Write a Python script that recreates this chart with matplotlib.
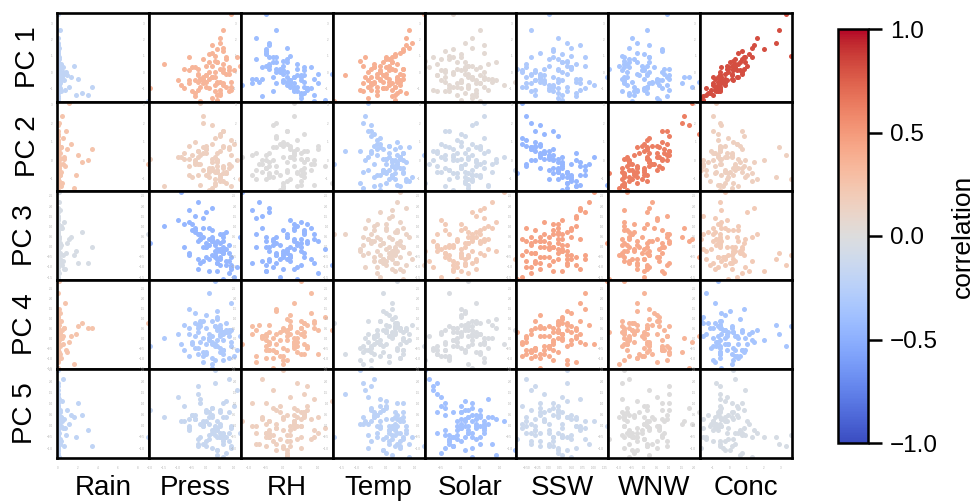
import numpy as np
import matplotlib.pyplot as plt
import matplotlib as mpl

plt.rcParams['font.family'] = ['Liberation Sans', 'DejaVu Sans']

# variables (columns) and principal components (rows)
variables = ['Rain', 'Press', 'RH', 'Temp', 'Solar', 'SSW', 'WNW', 'Conc']
pcs = ['PC 1', 'PC 2', 'PC 3', 'PC 4', 'PC 5']

# correlation of each PC with each variable
corr = [
    [-0.20, 0.35, -0.40, 0.38, 0.05, -0.30, -0.35, 0.82],
    [0.25, 0.15, 0.00, -0.28, -0.10, -0.45, 0.62, 0.15],
    [-0.05, -0.45, -0.45, 0.12, 0.20, 0.45, 0.42, 0.20],
    [0.25, -0.30, 0.30, -0.05, -0.03, 0.40, 0.35, -0.35],
    [-0.20, -0.15, 0.15, -0.22, -0.38, -0.12, 0.00, -0.05],
]

# observations (standardised)
rain = [0, 0, 0.3, 0, 0.1, 0.8, 0, 0, 0.2, 0,
        0, 0.1, 1.6, 0, 0, 0.4, 0, 0, 0.1, 0.6,
        0, 0, 0.2, 0, 2.4, 0, 0.1, 1.1, 0, 0,
        0.3, 3.0, 0, 0, 0.1, 0, 0, 0.7, 0, 0.2,
        0, 0, 0.5, 0, 0, 0.2, 0, 0.1, 0, 0,
        0.4, 0, 3.4, 0, 0, 9.0, 0, 0.1, 0, 0.3,
        0, 0.2, 0, 0, 1.3, 0, 0.1, 0, 0.5, 0,
        0, 0.9, 0, 0.2, 0, 0, 2.0, 0, 0.1, 0,
        0.3, 0, 0, 0.6, 0, 0.1, 0, 1.8, 0, 0]
press = [0.3, -0.5, 0.8, 0.1, -0.2, 0.6, -0.4, 0.4, 0.0, 0.5,
         0.9, -0.3, 0.2, -0.3, 0.7, -0.1, 0.4, 1.0, 0.6, -0.6,
         0.1, 0.5, -0.6, 0.9, -0.4, 0.3, 0.8, -0.2, 0.6, 0.0,
         -1.5, 0.4, 0.2, 0.7, -0.9, 0.5, -0.3, 0.9, 0.1, 0.6,
         -0.4, 0.2, 0.8, -0.1, 0.3, -2.0, 0.6, -0.1, 0.4, -0.5,
         0.7, 0.2, 0.0, 0.0, 0.5, -0.2, 1.1, 0.3, -0.6, 0.1,
         0.4, -0.3, -0.8, 0.6, 0.2, 0.5, -0.1, -1.0, 0.3, 0.7,
         0.4, 0.0, 0.9, -0.4, 0.5, 0.1, -0.2, 0.6, 0.8, 0.2,
         -0.1, 0.3, 1.2, -0.3, 0.6, -0.6, 0.2, 0.5, -0.8, 0.4]
rh = [0.2, 0.6, -0.3, -0.5, 0.9, 0.1, -0.6, -0.2, 0.5, -0.8,
      0.4, -0.7, 0.0, 0.7, -0.4, 0.3, 1.2, -0.1, 0.1, 0.5,
      0.8, -0.2, -0.9, -0.5, 0.6, 0.0, 1.0, 0.3, -0.5, 0.2,
      0.4, 0.9, -0.3, 0.1, -1.2, -0.4, 0.6, 0.3, -0.1, -0.2,
      0.0, 0.5, -0.6, -0.8, 0.2, 0.7, 0.4, -0.2, 0.1, 0.3,
      1.4, -0.5, 0.2, -0.4, 0.6, 0.9, -0.3, 0.5, 0.0, -0.6,
      0.3, -0.1, 0.7, -0.4, 0.1, 0.5, -0.8, 0.2, -0.2, 0.6,
      -0.5, 0.4, 0.0, 0.8, 0.3, -0.3, -0.9, 0.1, 0.6, -0.4,
      0.2, 0.4, -0.5, 0.0, 1.0, -0.2, 0.3, 0.5, -0.4, 0.1]
temp = [0.1, -0.4, 0.5, 0.3, -0.2, -0.6, 0.2, -0.1, 0.6, 0.7,
        -0.3, 0.4, -0.8, -0.5, 0.0, -0.7, 0.3, -0.2, 0.8, 0.5,
        -0.1, -0.5, 0.2, 1.3, 0.4, -0.9, -0.3, -0.6, 0.6, 0.1,
        -0.4, 0.3, -0.5, 0.0, 0.5, 0.9, -1.4, 0.2, -0.2, 0.8,
        0.4, -0.6, -0.4, 0.1, 0.3, -0.1, 0.6, -0.8, 0.2, -0.3,
        0.0, 0.5, 0.3, -0.2, -0.4, -1.8, -0.7, 0.4, 0.1, 0.6,
        -0.5, 0.2, 0.0, 0.4, -0.3, 0.7, 0.1, -0.6, -0.2, 0.3,
        0.6, -0.1, 0.5, 0.0, -0.9, 0.2, 0.4, -0.5, 0.3, 0.7,
        -0.2, -0.8, 0.1, 0.5, -0.4, 0.2, 0.0, -0.3, 0.6, -0.1]
solar = [0.2, 0.5, -0.3, 0.0, 0.7, -0.4, 0.4, 0.1, -0.6, 0.3,
         -0.1, 0.8, 0.2, -0.7, -0.2, 0.6, 0.0, -0.5, 0.3, 0.9,
         -0.3, 0.1, 0.5, -0.2, 0.4, -0.9, 0.2, 0.6, -0.4, 0.0,
         0.7, -0.1, 0.3, -0.5, 1.1, 0.1, -0.6, 0.4, -0.2, 0.5,
         0.0, 0.3, -0.8, 0.6, -0.3, 0.2, -0.1, 0.4, 0.9, -0.4,
         0.1, 0.6, -0.2, 0.3, 0.0, 0.5, -0.7, 0.2, -0.4, 0.8,
         -0.1, 0.4, 0.0, -0.6, 0.3, 0.1, -0.3, -0.5, 0.6, 0.2,
         -0.2, 0.5, -0.4, 0.1, 0.7, -0.1, 0.3, -0.3, 0.0, 0.6,
         0.4, -0.6, 0.2, -0.2, 0.5, 0.0, -0.4, 0.3, 0.1, 1.4]
ssw = [0.0, 0.5, -0.4, 0.3, 0.7, -0.3, 0.6, 0.4, -0.2, 0.2,
       -0.5, 0.9, 0.4, -0.3, 0.1, -0.5, 0.3, -0.6, 0.5, -0.1,
       0.8, 0.2, 0.7, 0.0, 0.2, 0.4, -0.4, -0.6, 0.1, -0.2,
       0.6, -0.3, -0.2, 0.2, 1.0, 0.4, -0.1, 0.7, 0.3, -0.4,
       -0.3, 0.2, -0.5, 0.6, 0.5, 0.0, -0.7, -0.4, 0.3, 0.1,
       0.4, -0.2, 0.1, 0.8, -0.1, 0.3, -0.4, 1.3, -0.3, 0.2,
       -0.1, 0.5, 0.2, -0.5, -0.2, 0.6, 0.0, 0.3, -0.6, 0.4,
       0.1, -0.4, 0.6, 0.5, 0.0, 0.3, -0.2, 0.1, 0.2, 0.7,
       -0.3, 0.4, 0.0, -0.2, -0.5, 0.8, 0.1, 0.3, -0.1, 0.2]
wnw = [0.6, -0.8, -0.3, 0.0, -0.9, 0.7, 0.9, -0.3, -0.2, -0.5,
       0.1, 0.3, -1.0, 1.0, -0.8, 1.6, 0.6, 0.0, -0.6, -0.8,
       0.0, 1.0, -0.8, 0.9, -0.6, -0.8, 0.8, 1.9, 0.7, 0.5,
       -0.8, -0.6, 1.8, -0.4, -0.7, -0.3, 1.0, -0.3, -0.7, 0.1,
       0.7, 0.5, -0.6, 0.5, -0.9, 0.7, -1.4, 1.5, 0.2, -0.4,
       -0.3, -0.3, 0.1, 0.1, 2.2, -0.5, 0.2, -0.8, -0.1, 0.0,
       0.2, 0.0, 0.1, -0.7, 0.9, 0.1, -0.6, 0.5, 0.2, -0.4,
       0.7, 0.1, -0.8, 0.4, 0.0, -0.6, 1.0, 0.9, -0.9, 0.2,
       0.6, -0.9, -0.1, 0.1, 0.3, 0.2, -0.7, -0.4, 0.8, -0.5]
conc = [-0.7, -0.1, -0.6, 1.1, -0.6, 0.7, -1.6, 0.0, 0.1, 1.6,
        -0.7, -0.6, 0.1, -0.6, 1.3, -1.0, -1.6, 0.4, 1.3, -0.5,
        -1.4, 0.8, -0.5, 3.3, -1.3, 0.2, 0.7, -0.8, 0.7, -0.3,
        0.5, -1.0, -0.5, 0.7, -0.3, 2.7, -0.6, -0.9, -0.6, 2.9,
        0.2, -1.7, 0.3, -0.9, 3.6, -0.6, -0.1, -0.6, 0.6, -0.7,
        -0.3, 0.5, -0.6, 1.0, -0.7, -1.6, 0.9, -0.7, 0.6, -0.3,
        -1.0, 0.2, -0.6, 0.3, 0.4, -1.2, 0.3, -0.2, -0.1, -0.9,
        2.0, -0.6, -0.4, -0.5, -1.1, 0.9, 0.1, -1.0, 0.2, 1.4,
        -0.5, -0.8, -0.2, 0.1, -0.6, 0.8, 0.5, -1.4, -0.2, -0.3]

pc1 = [-0.8, 0.3, -1.2, 1.1, -0.4, 0.0, -1.5, 0.6, -0.2, 2.1,
       -0.9, -0.6, 0.4, -1.1, 0.9, -0.3, -1.7, 0.1, 1.5, -0.5,
       -1.0, 0.2, -0.7, 3.6, -1.3, 0.7, -0.1, -0.9, 1.3, -0.6,
       0.5, -1.4, -0.3, 0.8, -0.8, 1.8, -0.2, -1.1, 0.0, 2.6,
       -0.5, -1.6, 0.3, -0.4, 1.0, -1.0, 0.2, -0.7, 0.6, -1.2,
       -0.1, 1.2, -0.9, 0.4, -0.6, -1.8, 0.9, -0.3, 0.1, -0.4,
       -0.7, 0.2, -1.0, 0.5, -0.3, -1.3, 0.8, -0.5, 0.0, -0.9,
       1.4, -0.2, -0.6, 0.3, -1.1, 0.6, -0.4, -0.8, 0.1, 1.7,
       -0.5, -1.2, 0.4, -0.1, -0.7, 0.9, -0.3, -1.4, 0.2, -0.6]
pc2 = [0.2, -0.9, 0.7, -0.4, -1.3, 1.6, 0.0, -0.6, 0.4, -1.0,
       1.1, -0.2, -1.5, 0.5, -0.7, 2.4, -0.3, 0.9, -1.1, 0.1,
       -0.5, 1.3, -0.8, 0.3, -0.1, -1.2, 0.6, 3.1, -0.4, 0.8,
       -1.4, 0.0, 1.9, -0.6, 0.2, -0.9, 0.5, -0.3, -1.6, 0.7,
       1.0, -0.5, -0.2, 0.4, -1.0, 0.1, -0.7, 2.0, -0.1, 0.3,
       -1.2, -0.4, 0.6, -0.8, 1.4, -0.2, 0.0, -1.3, 0.8, -0.6,
       0.4, -0.8, 0.1, -0.3, 0.9, -1.1, -0.5, 0.2, 1.2, -0.7,
       0.0, 0.6, -1.4, -0.2, 0.5, -0.9, 0.3, 1.6, -0.4, -0.1,
       0.7, -0.6, -1.0, 0.2, 0.8, -0.3, 0.1, -0.8, 0.4, -0.5]
pc3 = [-0.5, 0.8, 0.1, -1.2, 0.4, -0.3, 1.5, -0.8, 0.0, 0.6,
       -1.0, 2.2, -0.4, 0.3, -0.7, 0.9, -0.1, -1.5, 0.5, 1.2,
       -0.6, 0.2, 1.8, -0.9, 0.7, -0.2, -1.3, 0.4, 0.0, -0.5,
       1.0, -0.8, 0.3, -0.1, 2.7, -0.6, 0.6, -1.1, 0.1, -0.3,
       0.8, 0.4, -0.7, 1.4, -0.4, 0.2, -1.6, 0.5, -0.2, 1.1,
       -0.9, 0.3, 0.0, 1.7, -0.5, 0.6, -1.0, 0.2, -0.3, 0.9,
       0.3, -0.6, 1.1, -0.2, 0.5, -0.9, 0.0, 1.3, -0.4, 0.7,
       -1.2, 0.2, -0.5, 0.9, -0.1, 0.4, -0.8, 0.6, -0.3, 1.9,
       -0.7, 0.1, 0.5, -1.1, 0.3, -0.4, 0.8, -0.2, 0.0, -0.6]
pc4 = [0.6, -0.3, -1.0, 0.2, 0.9, -0.6, 0.1, 1.4, -0.8, 0.4,
       -0.2, 0.7, -1.3, -0.5, 0.3, 0.0, 1.1, -0.9, -0.1, 0.5,
       2.3, -0.7, 0.2, -0.4, 0.8, -1.1, 0.4, -0.2, -0.6, 1.2,
       0.0, 0.5, -1.5, 0.3, -0.3, 0.7, -0.8, 1.8, -0.1, 0.2,
       -0.5, 0.9, 0.1, -1.2, 0.6, -0.4, 0.3, -0.7, 1.0, -0.2,
       0.4, -1.0, 0.5, -0.3, 0.1, 0.8, -0.6, 2.9, -0.9, 0.0,
       -0.4, 0.3, 0.7, -0.6, 0.1, 0.5, -0.9, 0.2, -0.3, 0.8,
       -0.1, -0.7, 0.4, 1.3, -0.5, 0.0, 0.6, -1.1, 0.3, -0.2,
       0.9, -0.4, 0.1, 0.5, -0.8, 1.5, -0.3, 0.2, -0.6, 0.4]
pc5 = [-0.2, 0.5, -0.7, 0.1, 1.2, -0.4, 0.3, -1.1, 0.6, -0.3,
       0.0, -0.8, 0.4, 1.8, -0.5, 0.2, -0.1, 0.9, -1.4, 0.3,
       -0.6, 0.7, 0.0, -0.9, 0.5, 2.5, -0.3, 0.1, 1.0, -0.7,
       0.4, -0.2, 0.8, -1.2, 0.2, -0.5, 1.4, -0.1, 0.6, -0.8,
       0.3, -1.0, 2.1, 0.0, -0.4, 0.7, -0.6, 0.1, -1.3, 0.5,
       1.1, -0.3, -0.9, 0.2, 0.6, -0.5, 1.6, 0.0, -0.2, 0.4,
       0.2, -0.6, 0.9, -0.3, 0.5, 0.0, -0.8, 1.3, -0.1, 0.4,
       -0.5, 0.7, -1.0, 0.3, 0.1, -0.4, 1.0, -0.7, 0.6, -0.2,
       0.0, 1.9, -0.3, -0.9, 0.4, -0.1, 0.8, -0.5, 0.2, -1.1]

xs = [rain, press, rh, temp, solar, ssw, wnw, conc]
ys = [pc1, pc2, pc3, pc4, pc5]

fig = plt.figure(figsize=(9.74, 5.01), dpi=100)
gs = fig.add_gridspec(5, 8, left=57/974, right=792/974, top=1-13/501,
                      bottom=1-458/501, wspace=0, hspace=0)

cmap = mpl.colormaps['coolwarm']
norm = mpl.colors.Normalize(-1, 1)

for i in range(5):
    for j in range(8):
        ax = fig.add_subplot(gs[i, j])
        ax.scatter(xs[j], ys[i], s=13, color=cmap(norm(corr[i][j])),
                   linewidths=0)
        ax.margins(0.01)
        # tiny grey tick labels, seen as dots around each panel
        ax.tick_params(length=0, labelsize=2.2, labelcolor='#b0b0b0')
        ax.tick_params(axis='x', pad=6)
        ax.tick_params(axis='y', pad=3)
        for sp in ax.spines.values():
            sp.set_linewidth(1.9)
        if j == 0:
            ax.set_ylabel(pcs[i], fontsize=20, labelpad=6)
        if i == 4:
            ax.set_xlabel(variables[j], fontsize=20, labelpad=3.5)

cax = fig.add_axes([838/974, 1-443/501, 30/974, 414/501])
cb = fig.colorbar(mpl.cm.ScalarMappable(norm=norm, cmap=cmap), cax=cax)
cb.set_ticks([-1.0, -0.5, 0.0, 0.5, 1.0])
cb.ax.tick_params(labelsize=17.5, length=10, width=1.8, pad=6)
cb.outline.set_linewidth(1.8)
cb.set_label('correlation', fontsize=19, labelpad=9)

fig.savefig('out.png', dpi=100)
